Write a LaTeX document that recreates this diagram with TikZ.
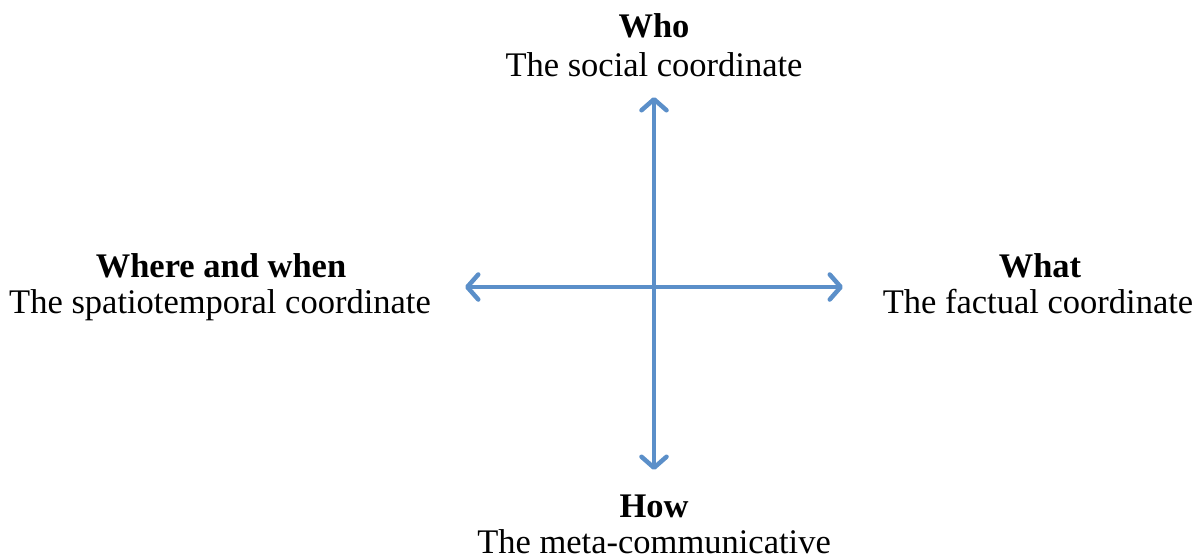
\documentclass[tikz,border=0pt]{standalone}
\usepackage{fontspec}
\setmainfont{Liberation Serif}
\usetikzlibrary{arrows.meta}
\definecolor{axisblue}{HTML}{5B8FC9}
\begin{document}
\begin{tikzpicture}[x=1pt,y=-1pt,
  axis/.style={draw=axisblue,line width=4.5pt,line cap=round,
    {Straight Barb[length=11pt,width=25pt,line width=4.5pt,round]}-{Straight Barb[length=11pt,width=25pt,line width=4.5pt,round]}},
  lbl/.style={anchor=base,inner sep=0pt,font=\fontsize{34.5}{40}\selectfont}]
\useasboundingbox (0,0) rectangle (1196,558);
\coordinate (top) at (654,97);
\coordinate (bot) at (654,470);
\coordinate (lft) at (465,287);
\coordinate (rgt) at (843,287);
\draw[axis] (bot) -- (top);
\draw[axis] (lft) -- (rgt);
\node[lbl] (who) at (654,37) {\bfseries Who};
\node[lbl] (whod) at (654,76) {The social coordinate};
\node[lbl] (where) at (221,277) {\bfseries Where and when};
\node[lbl] (whered) at (220,313) {The spatiotemporal coordinate};
\node[lbl] (what) at (1040,277) {\bfseries What};
\node[lbl] (whatd) at (1038,313) {The factual coordinate};
\node[lbl] (how) at (654,517) {\bfseries How};
\node[lbl] (howd) at (654,553) {The meta-communicative};
\end{tikzpicture}
\end{document}
